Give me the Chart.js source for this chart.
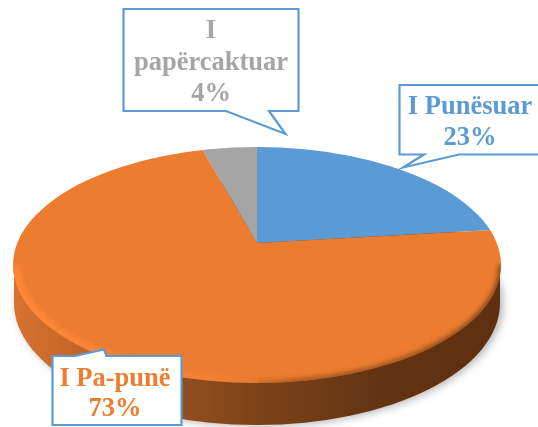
<!DOCTYPE html>
<html>
<head>
<meta charset="utf-8">
<style>html,body{margin:0;padding:0;background:#fff;overflow:hidden}canvas{display:block}</style>
<script src="https://cdn.jsdelivr.net/npm/chart.js@4/dist/chart.umd.min.js"></script>
</head>
<body>
<canvas id="c" width="538" height="427"></canvas>
<script>
const categories = ["I Punësuar", "I Pa-punë", "I papërcaktuar"];
const shares = [23, 73, 4];
const sliceColors = ["#5B9BD5", "#EB7C30", "#A5A5A5"];

// Drawing geometry of the tilted disc and the callouts
const disc = {cx: 257, cy: 265, rx: 244, ry: 118, apexX: 257, apexY: 243, tilt: 0.44, zoom: 1.6};
const side = {cy: 303, rx: 243, ry: 122};
const callouts = [
  {path: [[399.5,85],[545,85],[545,154.5],[459,154.5],[403,167.5],[424,154.5],[399.5,154.5]],
   cx: 470, lines: [categories[0], shares[0] + "%"], base: [114, 145], color: "#5B9BD5"},
  {path: [[52.5,356],[75,356],[104,349.5],[106.5,356],[181.5,356],[181.5,425],[52.5,425]],
   cx: 115, lines: [categories[1], shares[1] + "%"], base: [386, 416], color: "#ED7D31"},
  {path: [[123.5,9],[298.5,9],[298.5,111],[269,111],[285.5,134],[226,111],[123.5,111]],
   cx: 211, lines: ["I", "papërcaktuar", shares[2] + "%"], base: [38, 70, 101], color: "#A5A5A5"}
];

function ellipsePath(ctx, cx, cy, rx, ry) {
  ctx.beginPath();
  ctx.ellipse(cx, cy, rx, ry, 0, 0, Math.PI * 2);
}

const tiltedDisc = {
  id: "tiltedDisc",
  beforeDatasetsDraw(chart) {
    const ctx = chart.ctx;
    // soft shadow + side wall
    ctx.save();
    const g = ctx.createLinearGradient(13, 0, 500, 0);
    g.addColorStop(0, "#D87230");
    g.addColorStop(0.12, "#C5672A");
    g.addColorStop(0.3, "#985322");
    g.addColorStop(0.5, "#7C4319");
    g.addColorStop(0.75, "#643411");
    g.addColorStop(1, "#5E3011");
    ctx.shadowColor = "rgba(0,0,0,0.3)";
    ctx.shadowBlur = 9;
    ctx.shadowOffsetX = 3;
    ctx.shadowOffsetY = 1;
    ctx.fillStyle = g;
    ellipsePath(ctx, disc.cx, side.cy, side.rx, side.ry);
    ctx.fill();
    ctx.shadowColor = "transparent";
    ctx.fillRect(disc.cx - side.rx, disc.cy, side.rx * 2, side.cy - disc.cy);
    ctx.restore();
    // the pie itself, tilted about its apex and trimmed to the disc outline
    const arc = chart.getDatasetMeta(0).data[0];
    ctx.save();
    ellipsePath(ctx, disc.cx, disc.cy, disc.rx, disc.ry);
    ctx.clip();
    ctx.translate(disc.apexX, disc.apexY);
    ctx.scale(disc.zoom, disc.zoom * disc.tilt);
    ctx.translate(-arc.x, -arc.y);
  },
  afterDatasetsDraw(chart) {
    const ctx = chart.ctx;
    ctx.restore();
    // bevel on the rim
    ctx.save();
    ellipsePath(ctx, disc.cx, disc.cy, disc.rx, disc.ry);
    ctx.clip();
    ctx.filter = "blur(2.5px)";
    const light = ctx.createLinearGradient(13, 0, 260, 0);
    light.addColorStop(0, "rgba(255,136,56,0.9)");
    light.addColorStop(0.65, "rgba(255,136,56,0.55)");
    light.addColorStop(1, "rgba(255,136,56,0)");
    ctx.strokeStyle = light;
    ctx.lineWidth = 14;
    ctx.beginPath();
    ctx.ellipse(disc.cx, disc.cy, disc.rx, disc.ry, 0, Math.PI * 0.5, Math.PI * 1.0);
    ctx.stroke();
    const dark = ctx.createLinearGradient(230, 0, 500, 0);
    dark.addColorStop(0, "rgba(110,58,20,0)");
    dark.addColorStop(0.25, "rgba(110,58,20,0.75)");
    dark.addColorStop(1, "rgba(100,52,18,1)");
    ctx.strokeStyle = dark;
    ctx.lineWidth = 4;
    ctx.beginPath();
    ctx.ellipse(disc.cx, disc.cy, disc.rx, disc.ry, 0, 0, Math.PI * 0.5);
    ctx.stroke();
    ctx.restore();
  },
  afterDraw(chart) {
    const ctx = chart.ctx;
    ctx.save();
    for (const c of callouts) {
      ctx.beginPath();
      c.path.forEach((p, i) => i ? ctx.lineTo(p[0], p[1]) : ctx.moveTo(p[0], p[1]));
      ctx.closePath();
      ctx.fillStyle = "#fff";
      ctx.fill();
      ctx.strokeStyle = "#5B9BD5";
      ctx.lineWidth = 2.2;
      ctx.lineJoin = "miter";
      ctx.stroke();
      ctx.fillStyle = c.color;
      ctx.font = 'bold 26.5px "Liberation Serif"';
      ctx.textAlign = "center";
      ctx.textBaseline = "alphabetic";
      c.lines.forEach((t, i) => ctx.fillText(t, c.cx, c.base[i]));
    }
    ctx.restore();
  }
};

new Chart(document.getElementById("c"), {
  type: "pie",
  data: {
    labels: categories,
    datasets: [{data: shares, backgroundColor: sliceColors, borderWidth: 0}]
  },
  options: {
    responsive: false,
    animation: false,
    layout: {padding: 0},
    events: [],
    plugins: {legend: {display: false}, tooltip: {enabled: false}, title: {display: false}}
  },
  plugins: [tiltedDisc]
});
</script>
</body>
</html>
